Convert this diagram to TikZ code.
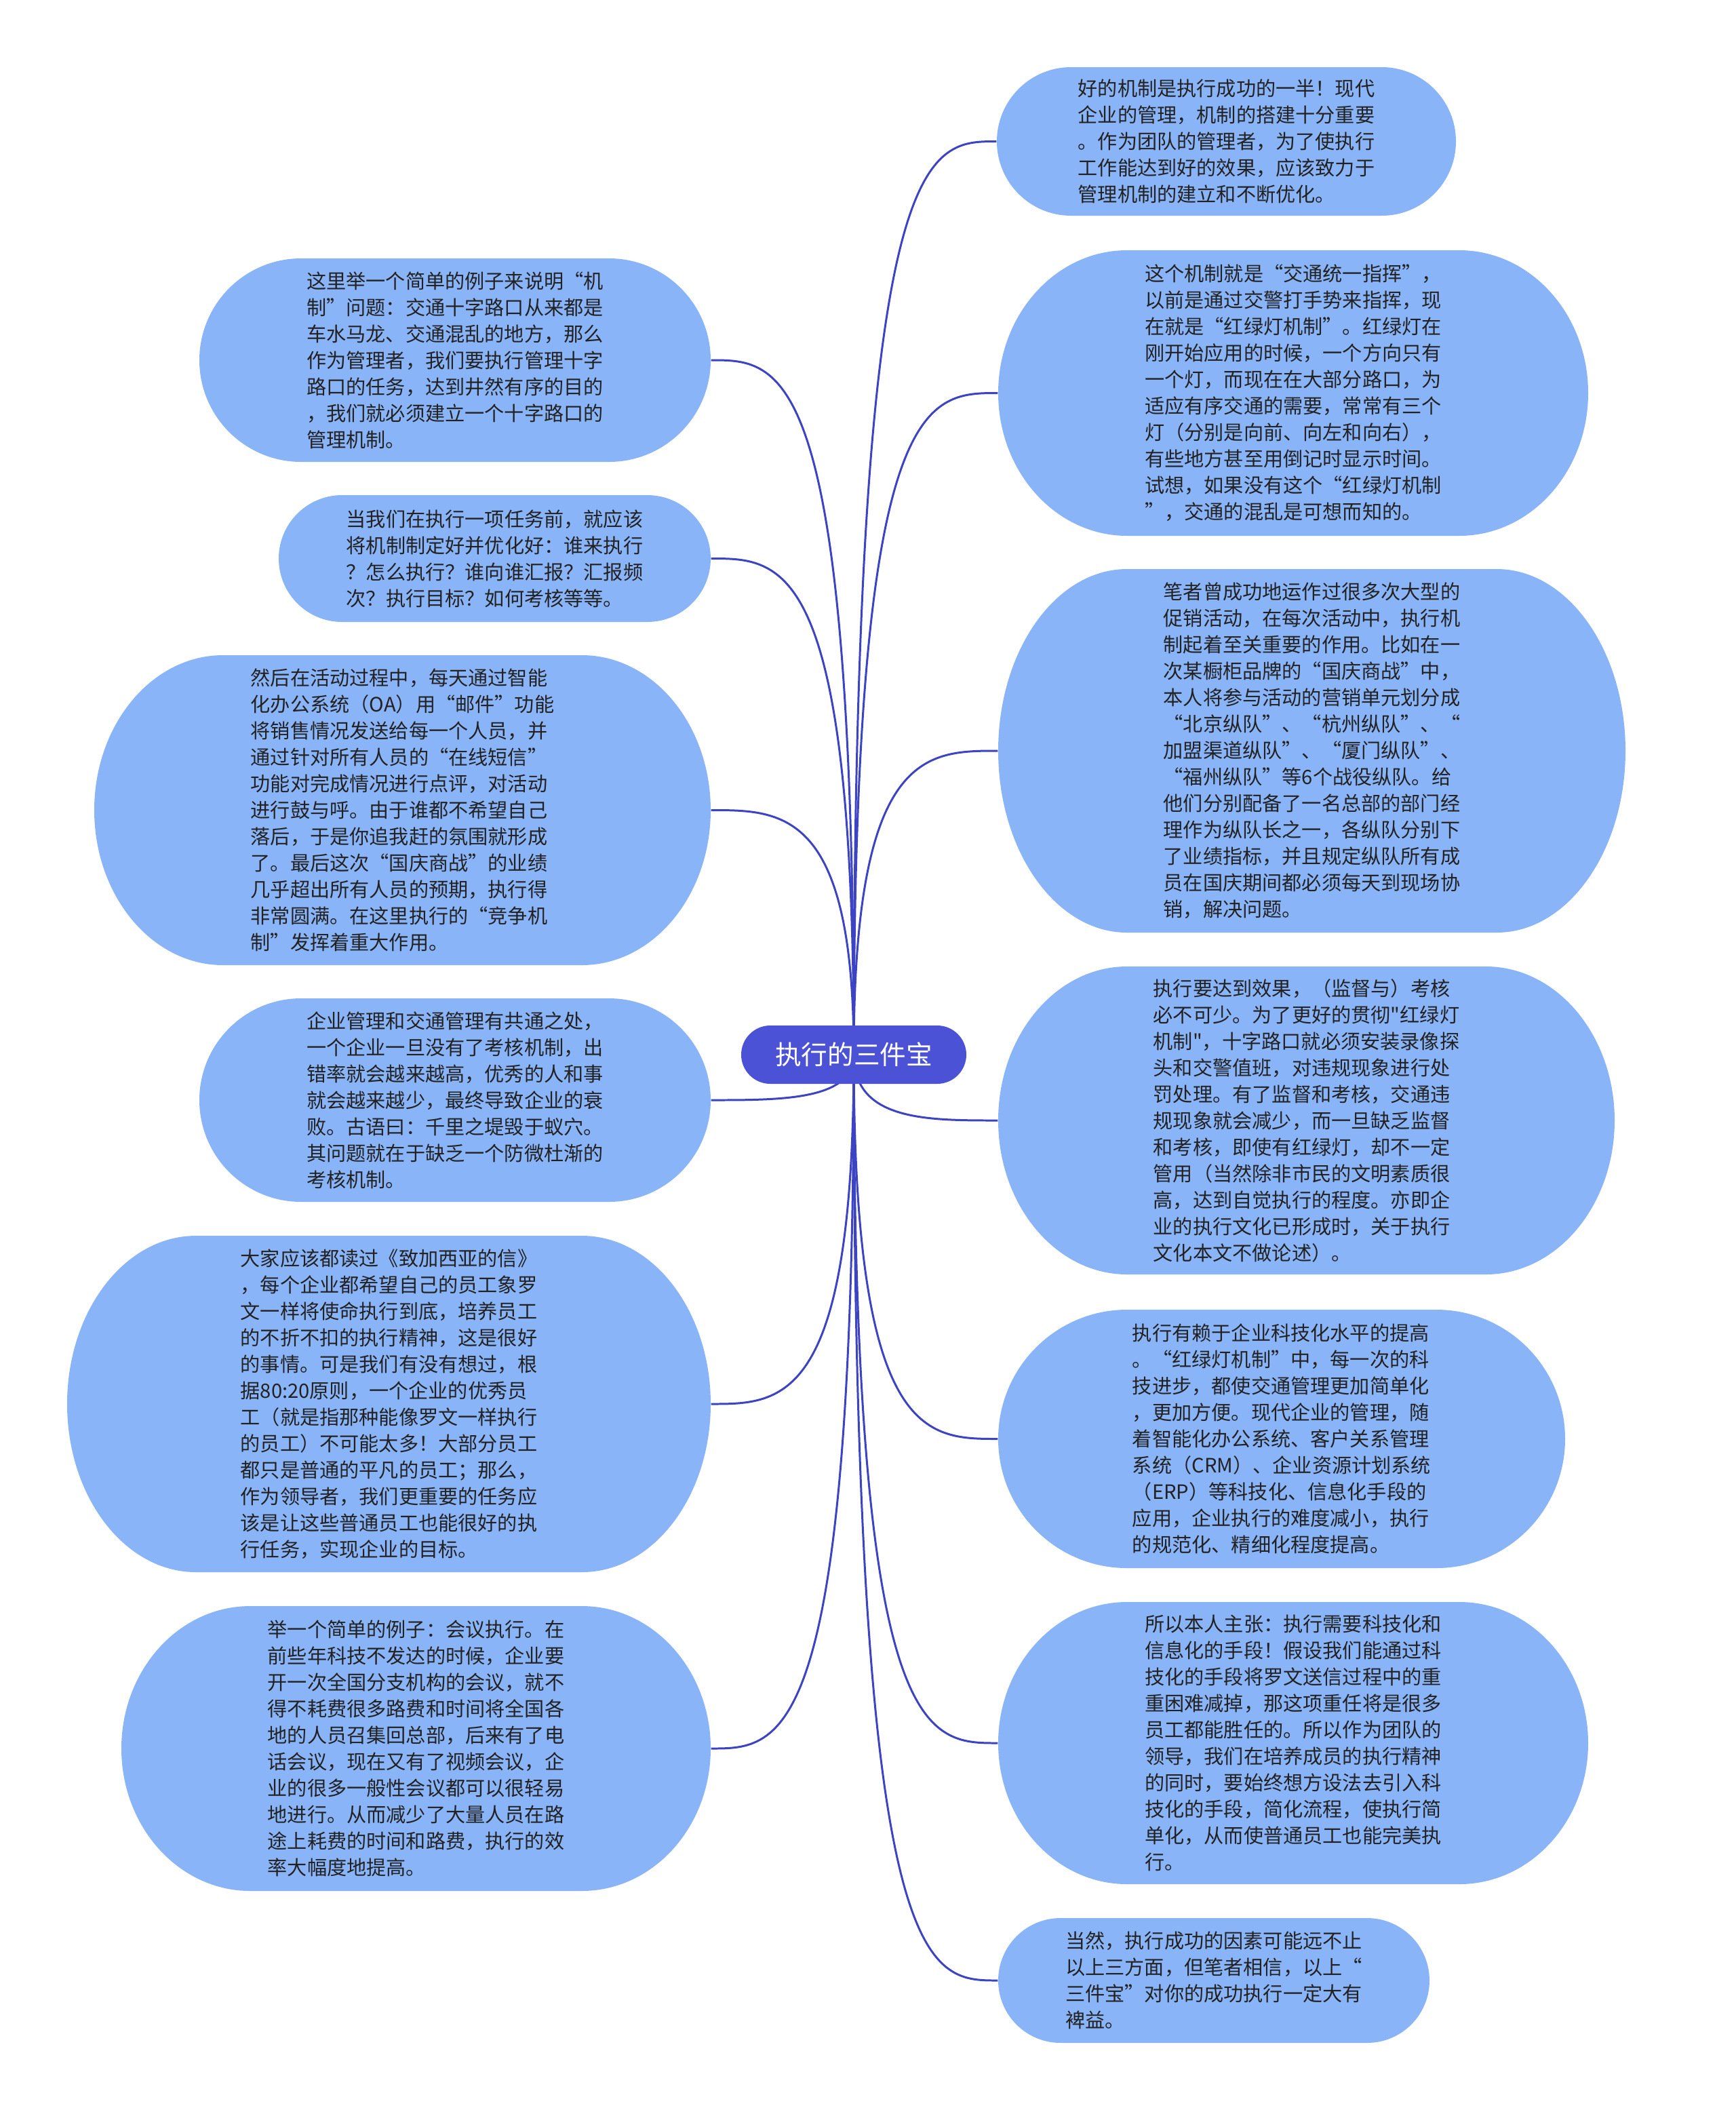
\documentclass[tikz,border=0pt]{standalone}
\usepackage{fontspec}
\setmainfont{Noto Sans CJK SC}[Ligatures=TeXOff]
\usepackage{xcolor}
\definecolor{hubblue}{HTML}{4B52D6}
\definecolor{linkblue}{HTML}{3D44C4}
\definecolor{leaffill}{HTML}{8AB4F8}
\definecolor{leaftext}{HTML}{222222}
\usepackage{tikz}
\usetikzlibrary{calc, backgrounds}

\tikzset{
  hub/.style={fill=hubblue, rounded corners=0.43cm, text=white,
              minimum width=3.32cm, minimum height=0.86cm,
              font=\fontsize{11pt}{13pt}\selectfont},
  leaf/.style={text=leaftext, align=left, inner sep=0pt,
               font=\fontsize{8.3pt}{11.1pt}\selectfont,
               path picture={
                 \fill[leaffill] let \p1=(path picture bounding box.south west),
                   \p2=(path picture bounding box.north east),
                   \n1={min(1.9cm,(\y2-\y1)/2)}, \n2={(\y2-\y1)/2} in
                   (\x1+\n1,\y1) -- (\x2-\n1,\y1)
                   arc[start angle=-90, end angle=90, x radius=\n1, y radius=\n2]
                   -- (\x1+\n1,\y2)
                   arc[start angle=90, end angle=270, x radius=\n1, y radius=\n2]
                   -- cycle;
               }},
  link/.style={draw=linkblue, line width=0.85pt}
}

\begin{document}
\begin{tikzpicture}
  \node[hub] (hub) at (12.59,-15.55) {执行的三件宝};

  % right side
  \node[leaf, minimum width=6.77cm, minimum height=2.19cm] (r1) at (18.085,-2.085)
    {好的机制是执行成功的一半！现代\\企业的管理，机制的搭建十分重要\\。作为团队的管理者，为了使执行\\工作能达到好的效果，应该致力于\\管理机制的建立和不断优化。};
  \node[leaf, minimum width=8.70cm, minimum height=4.21cm] (r2) at (19.07,-5.795)
    {这个机制就是“交通统一指挥”，\\以前是通过交警打手势来指挥，现\\在就是“红绿灯机制”。红绿灯在\\刚开始应用的时候，一个方向只有\\一个灯，而现在在大部分路口，为\\适应有序交通的需要，常常有三个\\灯（分别是向前、向左和向右），\\有些地方甚至用倒记时显示时间。\\试想，如果没有这个“红绿灯机制\\”，交通的混乱是可想而知的。};
  \node[leaf, minimum width=9.25cm, minimum height=5.36cm] (r3) at (19.345,-11.07)
    {笔者曾成功地运作过很多次大型的\\促销活动，在每次活动中，执行机\\制起着至关重要的作用。比如在一\\次某橱柜品牌的“国庆商战”中，\\本人将参与活动的营销单元划分成\\“北京纵队”、“杭州纵队”、“\\加盟渠道纵队”、“厦门纵队”、\\“福州纵队”等6个战役纵队。给\\他们分别配备了一名总部的部门经\\理作为纵队长之一，各纵队分别下\\了业绩指标，并且规定纵队所有成\\员在国庆期间都必须每天到现场协\\销，解决问题。};
  \node[leaf, minimum width=9.09cm, minimum height=4.54cm] (r4) at (19.265,-16.52)
    {执行要达到效果，（监督与）考核\\必不可少。为了更好的贯彻"红绿灯\\机制"，十字路口就必须安装录像探\\头和交警值班，对违规现象进行处\\罚处理。有了监督和考核，交通违\\规现象就会减少，而一旦缺乏监督\\和考核，即使有红绿灯，却不一定\\管用（当然除非市民的文明素质很\\高，达到自觉执行的程度。亦即企\\业的执行文化已形成时，关于执行\\文化本文不做论述）。};
  \node[leaf, minimum width=8.36cm, minimum height=3.81cm] (r5) at (18.90,-21.215)
    {执行有赖于企业科技化水平的提高\\。“红绿灯机制”中，每一次的科\\技进步，都使交通管理更加简单化\\，更加方便。现代企业的管理，随\\着智能化办公系统、客户关系管理\\系统（CRM）、企业资源计划系统\\（ERP）等科技化、信息化手段的\\应用，企业执行的难度减小，执行\\的规范化、精细化程度提高。};
  \node[leaf, minimum width=8.70cm, minimum height=4.16cm] (r6) at (19.07,-25.70)
    {所以本人主张：执行需要科技化和\\信息化的手段！假设我们能通过科\\技化的手段将罗文送信过程中的重\\重困难减掉，那这项重任将是很多\\员工都能胜任的。所以作为团队的\\领导，我们在培养成员的执行精神\\的同时，要始终想方设法去引入科\\技化的手段，简化流程，使执行简\\单化，从而使普通员工也能完美执\\行。};
  \node[leaf, minimum width=6.36cm, minimum height=1.84cm] (r7) at (17.90,-29.20)
    {当然，执行成功的因素可能远不止\\以上三方面，但笔者相信，以上“\\三件宝”对你的成功执行一定大有\\裨益。};

  % left side
  \node[leaf, minimum width=7.54cm, minimum height=3.00cm] (l1) at (6.71,-5.31)
    {这里举一个简单的例子来说明“机\\制”问题：交通十字路口从来都是\\车水马龙、交通混乱的地方，那么\\作为管理者，我们要执行管理十字\\路口的任务，达到井然有序的目的\\，我们就必须建立一个十字路口的\\管理机制。};
  \node[leaf, minimum width=6.37cm, minimum height=1.87cm] (l2) at (7.295,-8.235)
    {当我们在执行一项任务前，就应该\\将机制制定好并优化好：谁来执行\\？怎么执行？谁向谁汇报？汇报频\\次？执行目标？如何考核等等。};
  \node[leaf, minimum width=9.09cm, minimum height=4.57cm] (l3) at (5.935,-11.945)
    {然后在活动过程中，每天通过智能\\化办公系统（OA）用“邮件”功能\\将销售情况发送给每一个人员，并\\通过针对所有人员的“在线短信”\\功能对完成情况进行点评，对活动\\进行鼓与呼。由于谁都不希望自己\\落后，于是你追我赶的氛围就形成\\了。最后这次“国庆商战”的业绩\\几乎超出所有人员的预期，执行得\\非常圆满。在这里执行的“竞争机\\制”发挥着重大作用。};
  \node[leaf, minimum width=7.54cm, minimum height=3.00cm] (l4) at (6.71,-16.22)
    {企业管理和交通管理有共通之处，\\一个企业一旦没有了考核机制，出\\错率就会越来越高，优秀的人和事\\就会越来越少，最终导致企业的衰\\败。古语曰：千里之堤毁于蚁穴。\\其问题就在于缺乏一个防微杜渐的\\考核机制。};
  \node[leaf, minimum width=9.49cm, minimum height=4.96cm] (l5) at (5.735,-20.70)
    {大家应该都读过《致加西亚的信》\\，每个企业都希望自己的员工象罗\\文一样将使命执行到底，培养员工\\的不折不扣的执行精神，这是很好\\的事情。可是我们有没有想过，根\\据80:20原则，一个企业的优秀员\\工（就是指那种能像罗文一样执行\\的员工）不可能太多！大部分员工\\都只是普通的平凡的员工；那么，\\作为领导者，我们更重要的任务应\\该是让这些普通员工也能很好的执\\行任务，实现企业的目标。};
  \node[leaf, minimum width=8.69cm, minimum height=4.20cm] (l6) at (6.135,-25.78)
    {举一个简单的例子：会议执行。在\\前些年科技不发达的时候，企业要\\开一次全国分支机构的会议，就不\\得不耗费很多路费和时间将全国各\\地的人员召集回总部，后来有了电\\话会议，现在又有了视频会议，企\\业的很多一般性会议都可以很轻易\\地进行。从而减少了大量人员在路\\途上耗费的时间和路费，执行的效\\率大幅度地提高。};

  \begin{scope}[on background layer]
    \fill[white] (0,0) rectangle (25.6,-31.11);
    \draw[link] (hub.center) .. controls (hub.center |- r1.west) and ($(hub.center |- r1.west)!0.5!(r1.west)$) .. (r1.west);
    \draw[link] (hub.center) .. controls (hub.center |- r2.west) and ($(hub.center |- r2.west)!0.5!(r2.west)$) .. (r2.west);
    \draw[link] (hub.center) .. controls (hub.center |- r3.west) and ($(hub.center |- r3.west)!0.5!(r3.west)$) .. (r3.west);
    \draw[link] (hub.center) .. controls (hub.center |- r4.west) and ($(hub.center |- r4.west)!0.5!(r4.west)$) .. (r4.west);
    \draw[link] (hub.center) .. controls (hub.center |- r5.west) and ($(hub.center |- r5.west)!0.5!(r5.west)$) .. (r5.west);
    \draw[link] (hub.center) .. controls (hub.center |- r6.west) and ($(hub.center |- r6.west)!0.5!(r6.west)$) .. (r6.west);
    \draw[link] (hub.center) .. controls (hub.center |- r7.west) and ($(hub.center |- r7.west)!0.5!(r7.west)$) .. (r7.west);
    \draw[link] (hub.center) .. controls (hub.center |- l1.east) and ($(hub.center |- l1.east)!0.5!(l1.east)$) .. (l1.east);
    \draw[link] (hub.center) .. controls (hub.center |- l2.east) and ($(hub.center |- l2.east)!0.5!(l2.east)$) .. (l2.east);
    \draw[link] (hub.center) .. controls (hub.center |- l3.east) and ($(hub.center |- l3.east)!0.5!(l3.east)$) .. (l3.east);
    \draw[link] (hub.center) .. controls (hub.center |- l4.east) and ($(hub.center |- l4.east)!0.5!(l4.east)$) .. (l4.east);
    \draw[link] (hub.center) .. controls (hub.center |- l5.east) and ($(hub.center |- l5.east)!0.5!(l5.east)$) .. (l5.east);
    \draw[link] (hub.center) .. controls (hub.center |- l6.east) and ($(hub.center |- l6.east)!0.5!(l6.east)$) .. (l6.east);
  \end{scope}
\end{tikzpicture}
\end{document}
